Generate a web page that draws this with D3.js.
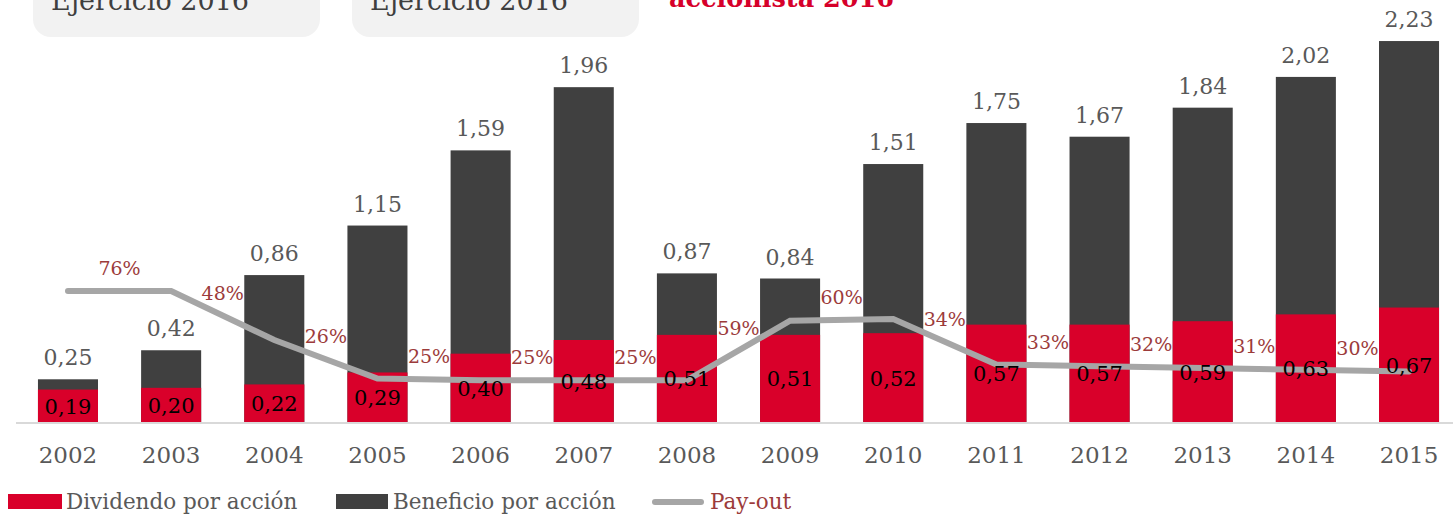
<!DOCTYPE html>
<html>
<head>
<meta charset="utf-8">
<script src="https://cdn.jsdelivr.net/npm/d3@7"></script>
<style>
  html, body { margin: 0; padding: 0; background: #ffffff; }
  svg { display: block; }
  text { font-family: "DejaVu Serif", serif; }
</style>
</head>
<body>
<svg id="chart" width="1453" height="518"></svg>
<script>
// ---- Data ----
const years = ["2002","2003","2004","2005","2006","2007","2008","2009","2010","2011","2012","2013","2014","2015"];
const beneficio = [0.25, 0.42, 0.86, 1.15, 1.59, 1.96, 0.87, 0.84, 1.51, 1.75, 1.67, 1.84, 2.02, 2.23];
const dividendo = [0.19, 0.20, 0.22, 0.29, 0.40, 0.48, 0.51, 0.51, 0.52, 0.57, 0.57, 0.59, 0.63, 0.67];
const payoutLine = [0.76, 0.76, 0.48, 0.26, 0.25, 0.25, 0.25, 0.59, 0.60, 0.34, 0.33, 0.32, 0.31, 0.30];
const payoutLabels = ["76%","48%","26%","25%","25%","25%","59%","60%","34%","33%","32%","31%","30%"];
const legendItems = ["Dividendo por acción", "Beneficio por acción", "Pay-out"];
const headerTexts = ["Ejercicio 2016", "Ejercicio 2016", "accionista 2016"];

// ---- Styles ----
const RED = "#D9002A", DARK = "#404040", LINE = "#A6A6A6", PCT = "#9C3B3B", GREY = "#595959";
const fmt = v => d3.format(".2f")(v).replace(".", ",");

const svg = d3.select("#chart");

// ---- Header (cropped, as in the reference) ----
const hdr = svg.append("g");
[33, 352].forEach((x0, i) => {
  hdr.append("rect").attr("x", x0).attr("y", -40).attr("width", 287).attr("height", 77)
    .attr("rx", 18).attr("ry", 18).attr("fill", "#F2F2F2");
  hdr.append("text").attr("x", x0 + 18).attr("y", 10)
    .attr("font-size", 27).attr("fill", "#3f3f3f").text(headerTexts[i]);
});
hdr.append("text").attr("x", 669).attr("y", 7).attr("font-size", 25.5)
  .attr("font-weight", "bold").attr("fill", "#D6002A").text(headerTexts[2]);

// ---- Scales ----
const x = d3.scaleBand().domain(years).range([16.4, 1460.6])
  .paddingInner(0.418).paddingOuter(0.209);
const y = d3.scaleLinear().domain([0, 2.4]).range([422, 12]);
const yp = d3.scaleLinear().domain([0, 1]).range([424, 249]);
const cx = d => x(d) + x.bandwidth() / 2;

// ---- Bars ----
svg.append("g").selectAll("rect").data(years).join("rect")
  .attr("x", d => x(d)).attr("width", x.bandwidth())
  .attr("y", (d, i) => y(beneficio[i])).attr("height", (d, i) => y(0) - y(beneficio[i]))
  .attr("fill", DARK);
svg.append("g").selectAll("rect").data(years).join("rect")
  .attr("x", d => x(d)).attr("width", x.bandwidth())
  .attr("y", (d, i) => y(dividendo[i])).attr("height", (d, i) => y(0) - y(dividendo[i]))
  .attr("fill", RED);

// ---- Axis ----
svg.append("line").attr("x1", 16).attr("x2", 1453).attr("y1", 423).attr("y2", 423)
  .attr("stroke", "#D9D9D9").attr("stroke-width", 2);
const xAxis = svg.append("g").attr("transform", "translate(0,423)")
  .call(d3.axisBottom(x).tickSize(0).tickPadding(0));
xAxis.select(".domain").remove();
xAxis.selectAll("text").attr("y", 40).attr("dy", 0)
  .attr("font-family", "DejaVu Serif").attr("font-size", 23).attr("fill", GREY);

// ---- Payout line ----
const lineGen = d3.line().x((d, i) => cx(years[i])).y(d => yp(d));
svg.append("path").datum(payoutLine).attr("d", lineGen)
  .attr("fill", "none").attr("stroke", LINE).attr("stroke-width", 6)
  .attr("stroke-linecap", "round").attr("stroke-linejoin", "miter");

// ---- Value labels ----
svg.append("g").selectAll("text").data(years).join("text")
  .attr("x", d => cx(d)).attr("y", (d, i) => y(beneficio[i]) - 14)
  .attr("text-anchor", "middle").attr("font-size", 22).attr("fill", GREY)
  .text((d, i) => fmt(beneficio[i]));
svg.append("g").selectAll("text").data(years).join("text")
  .attr("x", d => cx(d)).attr("y", (d, i) => (y(dividendo[i]) + y(0)) / 2 + 1)
  .attr("dominant-baseline", "central")
  .attr("text-anchor", "middle").attr("font-size", 21).attr("fill", "#000")
  .text((d, i) => fmt(dividendo[i]));

// ---- Payout labels ----
svg.append("g").selectAll("text").data(payoutLabels).join("text")
  .attr("x", (d, i) => (cx(years[i]) + cx(years[i + 1])) / 2)
  .attr("y", (d, i) => (yp(payoutLine[i]) + yp(payoutLine[i + 1])) / 2 - 23)
  .attr("dominant-baseline", "central")
  .attr("text-anchor", "middle").attr("font-size", 19).attr("fill", PCT)
  .text(d => d);

// ---- Legend ----
const lg = svg.append("g");
lg.append("rect").attr("x", 8).attr("y", 494).attr("width", 54).attr("height", 15).attr("fill", RED);
lg.append("text").attr("x", 66).attr("y", 509).attr("font-size", 21.5).attr("fill", GREY).text(legendItems[0]);
lg.append("rect").attr("x", 336).attr("y", 494).attr("width", 52).attr("height", 15).attr("fill", DARK);
lg.append("text").attr("x", 393).attr("y", 509).attr("font-size", 21.5).attr("fill", GREY).text(legendItems[1]);
lg.append("line").attr("x1", 655).attr("x2", 701).attr("y1", 502).attr("y2", 502)
  .attr("stroke", LINE).attr("stroke-width", 6).attr("stroke-linecap", "round");
lg.append("text").attr("x", 710).attr("y", 509).attr("font-size", 21.5).attr("fill", PCT).text(legendItems[2]);
</script>
</body>
</html>
